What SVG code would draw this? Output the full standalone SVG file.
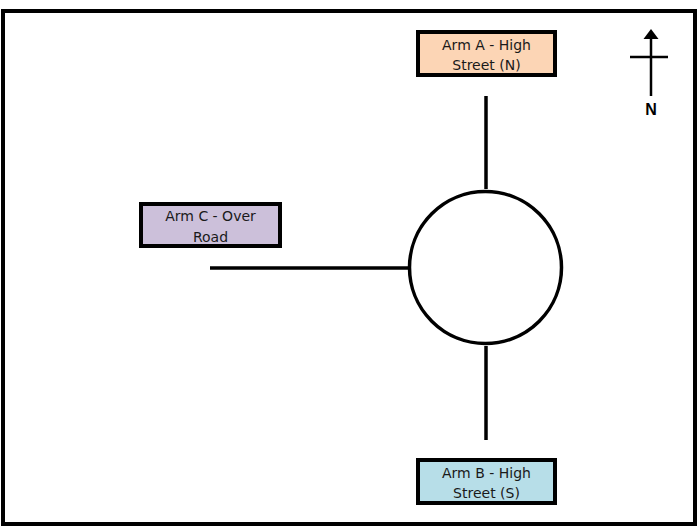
<svg xmlns="http://www.w3.org/2000/svg" width="699" height="528" viewBox="0 0 699 528">
  <style>
    .frame { fill: #ffffff; stroke: #000000; stroke-width: 4; }
    .box { stroke: #000000; stroke-width: 4; }
    .label { font-family: "DejaVu Sans", Verdana, sans-serif; font-size: 14px; fill: #1a1a1a; text-anchor: middle; }
    .road { stroke: #000000; stroke-width: 3.5; fill: none; }
    .north { stroke: #000000; stroke-width: 2.5; fill: none; }
  </style>

  <rect class="frame" x="3" y="11" width="692" height="513"/>

  <!-- roads leading into the roundabout -->
  <g id="connectors">
    <line class="road" x1="486" y1="96" x2="486" y2="189"/>
    <line class="road" x1="486" y1="346" x2="486" y2="440"/>
    <line class="road" x1="210" y1="268" x2="409" y2="268"/>
  </g>

  <g id="roundabout">
    <circle cx="485.5" cy="267.5" r="76" fill="#ffffff" stroke="#000000" stroke-width="3.5"/>
  </g>

  <g id="arm-a">
    <rect class="box" x="418" y="32" width="137" height="43" fill="#FCD5B5"/>
    <text class="label" x="486.5" y="49.5">Arm A - High</text>
    <text class="label" x="486.5" y="69.5">Street (N)</text>
  </g>

  <g id="arm-c">
    <rect class="box" x="141" y="204" width="139" height="42" fill="#CCC0DA"/>
    <text class="label" x="210.5" y="221">Arm C - Over</text>
    <text class="label" x="210.5" y="242">Road</text>
  </g>

  <g id="arm-b">
    <rect class="box" x="418" y="460" width="137" height="43" fill="#B7DEE8"/>
    <text class="label" x="486.5" y="477.5">Arm B - High</text>
    <text class="label" x="486.5" y="497.5">Street (S)</text>
  </g>

  <!-- north indicator -->
  <g id="north-arrow">
    <line class="north" x1="651" y1="96" x2="651" y2="36"/>
    <path d="M643.5,39 L651,29 L658.5,39 Z" fill="#000000"/>
    <line class="north" x1="630" y1="57" x2="668" y2="57"/>
    <text x="651" y="115" font-family="'Liberation Sans', Arial, sans-serif" font-size="16" font-weight="bold" text-anchor="middle" fill="#000000">N</text>
  </g>
</svg>
